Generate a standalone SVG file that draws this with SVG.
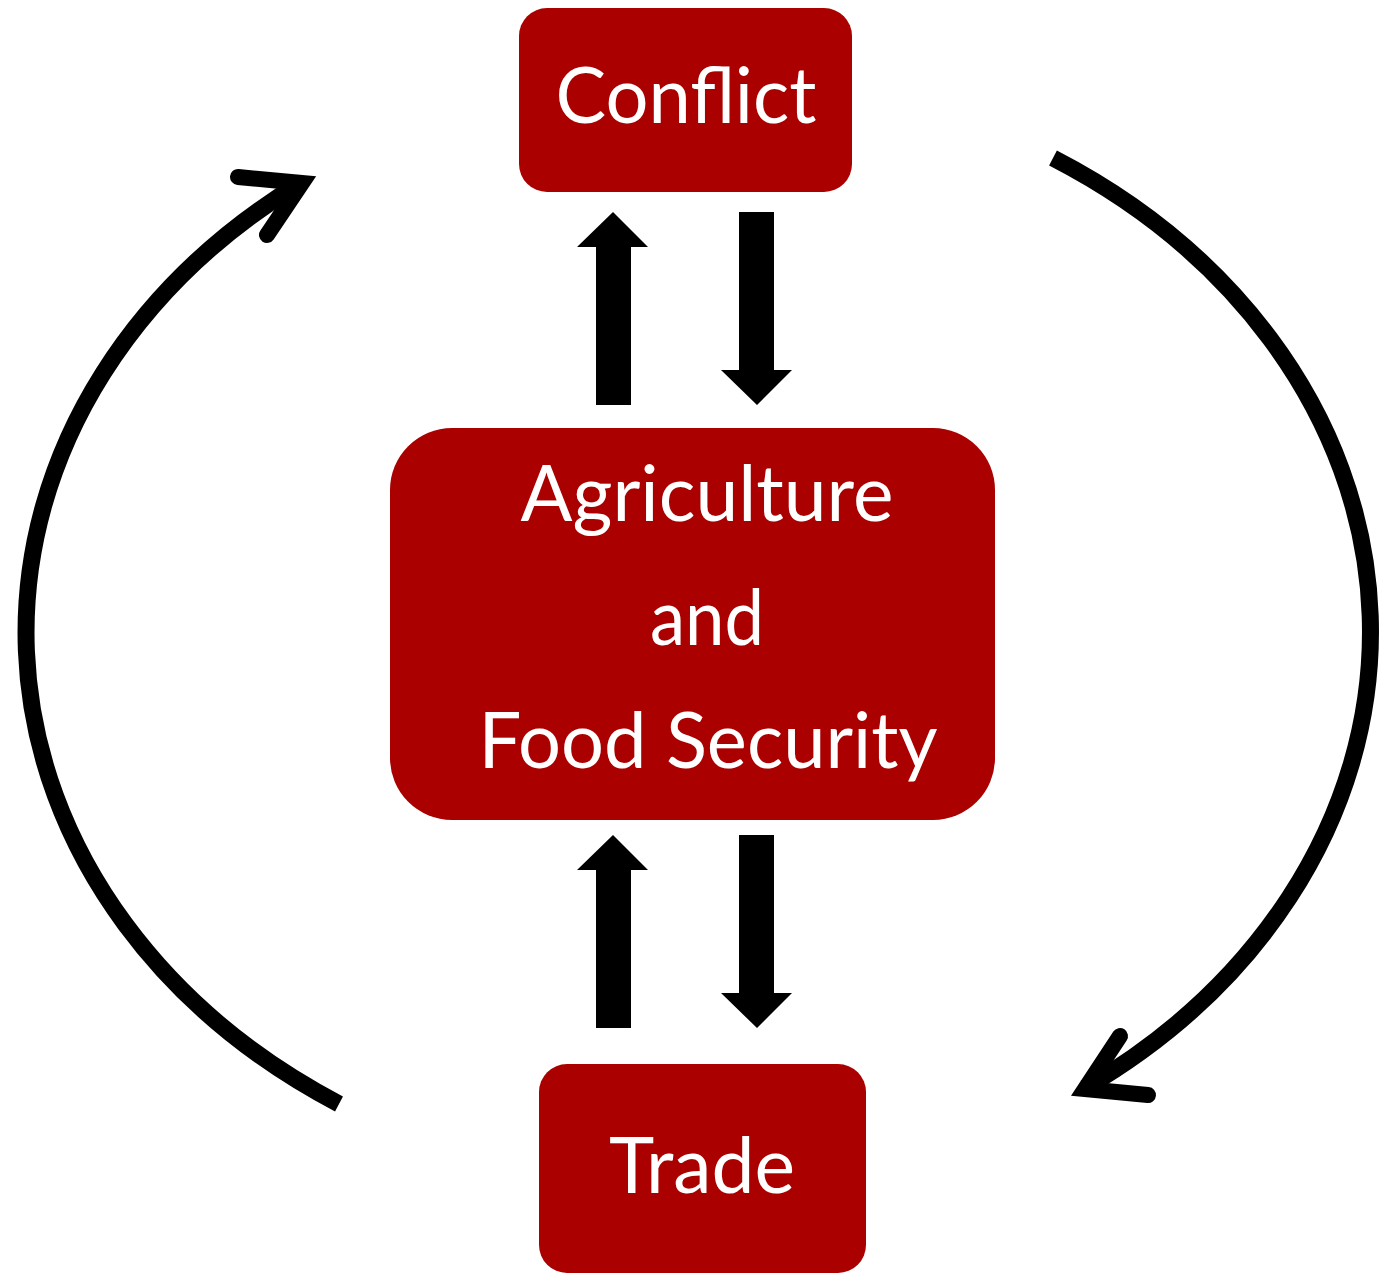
<svg xmlns="http://www.w3.org/2000/svg" width="1381" height="1274" viewBox="0 0 1381 1274">
  <style>
    .box { fill: #AA0000; }
    .lbl { fill: #FFFFFF; font-family: "Lato", "Liberation Sans", sans-serif; font-size: 78px; text-anchor: middle; }
    .arc { fill: none; stroke: #000000; stroke-width: 17; stroke-linecap: butt; }
    .head { fill: none; stroke: #000000; stroke-width: 16; stroke-linecap: round; stroke-linejoin: miter; stroke-miterlimit: 10; }
    .block { fill: #000000; }
  </style>
  <rect width="1381" height="1274" fill="#FFFFFF"/>
  <g id="connectors">
    <path class="arc" d="M 339 1104 A 673 558 0 0 1 302 182"/>
    <path class="head" d="M 238 177 L 302 183 L 267 235"/>
    <path class="arc" d="M 1053 158 A 673 558 0 0 1 1085 1088"/>
    <path class="head" d="M 1148 1095 L 1085 1089 L 1120 1036"/>
    <polygon class="block" points="613,212 648,247 631,247 631,405 596,405 596,247 577,247"/>
    <polygon class="block" points="739,212 774,212 774,370 792,370 757,405 721,370 739,370"/>
    <polygon class="block" points="613,835 648,870 631,870 631,1028 596,1028 596,870 577,870"/>
    <polygon class="block" points="739,835 774,835 774,993 792,993 757,1028 721,993 739,993"/>
  </g>
  <g id="conflict">
    <rect class="box" x="519" y="8" width="333" height="184" rx="28" ry="28"/>
    <text class="lbl" x="686" y="123" textLength="261" lengthAdjust="spacingAndGlyphs">Conflict</text>
  </g>
  <g id="agriculture">
    <rect class="box" x="390" y="428" width="605" height="392" rx="62" ry="62"/>
    <text class="lbl" x="707" y="521" textLength="373" lengthAdjust="spacingAndGlyphs">Agriculture</text>
    <text class="lbl" x="707" y="645" textLength="114" lengthAdjust="spacingAndGlyphs">and</text>
    <text class="lbl" x="708" y="768" textLength="459" lengthAdjust="spacingAndGlyphs">Food Security</text>
  </g>
  <g id="trade">
    <rect class="box" x="539" y="1064" width="327" height="209" rx="28" ry="28"/>
    <text class="lbl" x="702" y="1193" textLength="186" lengthAdjust="spacingAndGlyphs">Trade</text>
  </g>
</svg>
